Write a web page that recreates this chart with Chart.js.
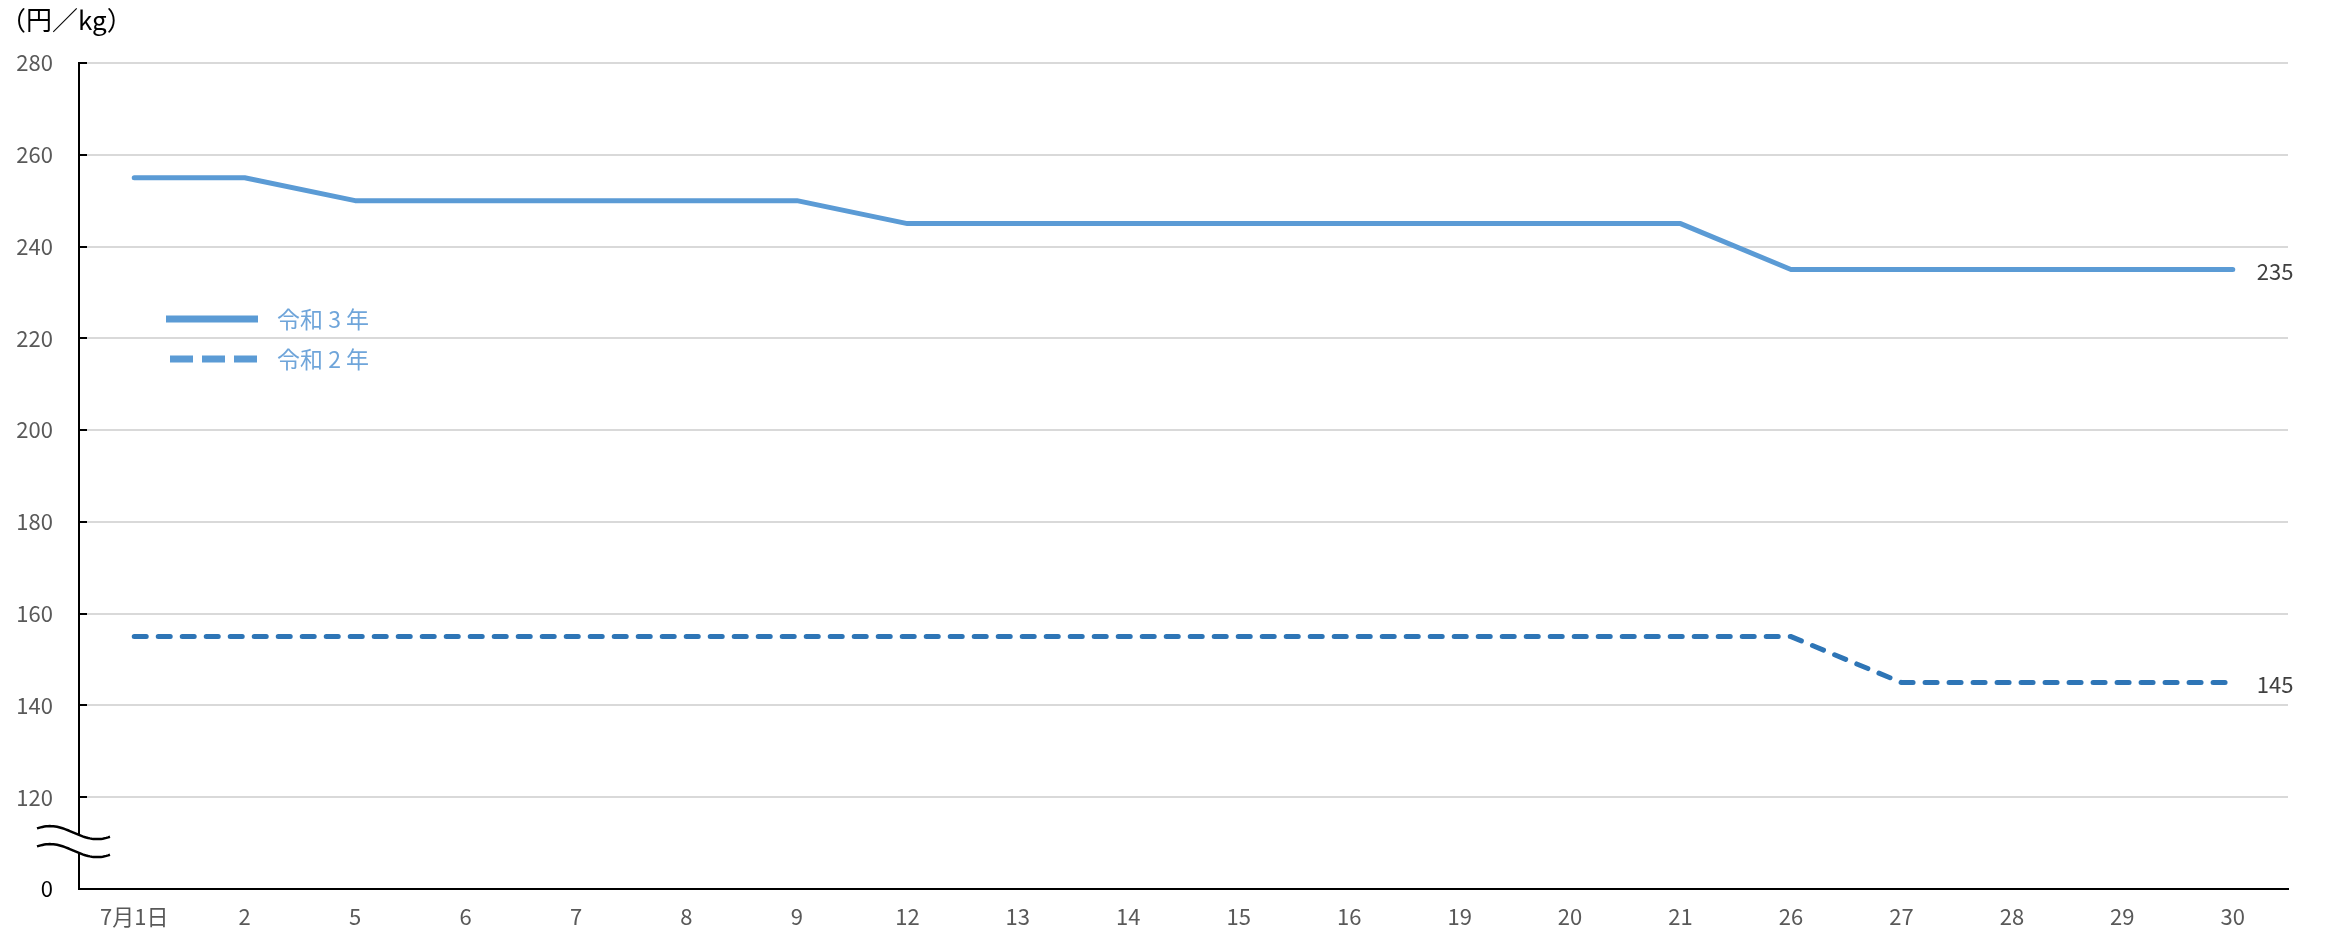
<!DOCTYPE html>
<html>
<head>
<meta charset="utf-8">
<script src="https://cdn.jsdelivr.net/npm/chart.js@4/dist/chart.umd.min.js"></script>
<style>
html,body{margin:0;padding:0;background:#fff;}
#wrap{width:2325px;height:937px;position:relative;}
</style>
</head>
<body>
<div id="wrap"><canvas id="c" width="2325" height="937"></canvas></div>
<script>
const categories = ['7月1日','2','5','6','7','8','9','12','13','14','15','16','19','20','21','26','27','28','29','30'];
const r3Values = [255,255,250,250,250,250,250,245,245,245,245,245,245,245,245,235,235,235,235,235];
const r2Values = [155,155,155,155,155,155,155,155,155,155,155,155,155,155,155,155,145,145,145,145];
const seriesNames = ['令和３年','令和２年'];
const yTicks = [100,120,140,160,180,200,220,240,260,280];
const unitLabel = '（円／kg）';

const FONT = "'Noto Sans CJK JP','Noto Sans',sans-serif";

const overlay = {
  id:'overlay',
  afterDraw(chart){
    const ctx = chart.ctx;
    const xs = chart.scales.x, ys = chart.scales.y;
    const ca = chart.chartArea;
    ctx.save();
    // inner tick marks
    ctx.strokeStyle = '#000'; ctx.lineWidth = 2;
    yTicks.forEach(v=>{
      if (v===100) return;
      const y = Math.round(ys.getPixelForValue(v));
      ctx.beginPath(); ctx.moveTo(ca.left, y); ctx.lineTo(ca.left+8, y); ctx.stroke();
    });
    // axis break
    const yc = ys.getPixelForValue(110);
    const x0 = 37, x1 = 110;
    const wave = (off)=>{
      const pts=[];
      for(let i=0;i<=40;i++){
        const x=x0+(x1-x0)*i/40;
        pts.push([x, yc+off - 6.5*Math.cos(2*Math.PI*(x-50)/94)]);
      }
      return pts;
    };
    const w1 = wave(-10.5), w2 = wave(7.5);
    ctx.fillStyle='#fff';
    ctx.beginPath();
    w1.forEach((p,i)=> i?ctx.lineTo(p[0],p[1]):ctx.moveTo(p[0],p[1]));
    for(let i=w2.length-1;i>=0;i--) ctx.lineTo(w2[i][0],w2[i][1]);
    ctx.closePath(); ctx.fill();
    ctx.strokeStyle='#000'; ctx.lineWidth=2.5;
    [w1,w2].forEach(w=>{ctx.beginPath(); w.forEach((p,i)=> i?ctx.lineTo(p[0],p[1]):ctx.moveTo(p[0],p[1])); ctx.stroke();});
    // unit label
    ctx.fillStyle='#000'; ctx.font = "26px "+FONT; ctx.textAlign='left'; ctx.textBaseline='middle';
    ctx.fillText(unitLabel, 0, 20);
    // end labels
    ctx.fillStyle='#404040'; ctx.font = "22px "+FONT;
    const li = categories.length-1;
    [r3Values, r2Values].forEach(arr=>{
      ctx.fillText(String(arr[li]), xs.getPixelForValue(li)+24, ys.getPixelForValue(arr[li])+2);
    });
    // legend
    const lx1=258;
    const items=[{y:ys.getPixelForValue(224.2), c:'#5B9BD5', dash:[], x0:166},{y:ys.getPixelForValue(215.5), c:'#5B9BD5', dash:[23,9], x0:170}];
    items.forEach((it,i)=>{
      ctx.strokeStyle=it.c; ctx.lineWidth=7; ctx.lineCap='butt'; ctx.setLineDash(it.dash);
      ctx.beginPath(); ctx.moveTo(it.x0, it.y); ctx.lineTo(lx1, it.y); ctx.stroke();
      ctx.setLineDash([]);
      ctx.fillStyle='#6FA5DA'; ctx.font="23px "+FONT;
      ctx.fillText(seriesNames[i].replace('３',' 3 ').replace('２',' 2 '), 277, it.y);
    });
    ctx.restore();
  }
};

new Chart(document.getElementById('c'), {
  type:'line',
  data:{
    labels:categories,
    datasets:[
      {label:seriesNames[0], data:r3Values, borderColor:'#5B9BD5', borderWidth:5, pointRadius:0, tension:0, borderCapStyle:'round', borderJoinStyle:'round'},
      {label:seriesNames[1], data:r2Values, borderColor:'#2E75B6', borderWidth:5, borderDash:[12,12], borderCapStyle:'round', pointRadius:0, tension:0}
    ]
  },
  options:{
    responsive:false, animation:false,
    layout:{padding:{left:0,right:37,top:63,bottom:0}},
    plugins:{legend:{display:false}, tooltip:{enabled:false}, title:{display:false}},
    scales:{
      x:{
        offset:true,
        grid:{display:false, drawTicks:false},
        border:{display:true, color:'#000', width:2},
        ticks:{color:'#595959', font:{size:22, family:FONT}, padding:14, maxRotation:0, autoSkip:false},
        afterFit(s){ s.height = 937-889; }
      },
      y:{
        min:100, max:280,
        afterBuildTicks(s){ s.ticks = yTicks.map(v=>({value:v})); },
        grid:{color:(c)=> c.tick && c.tick.value===100 ? 'rgba(0,0,0,0)' : '#D9D9D9', lineWidth:2, drawTicks:false},
        border:{display:true, color:'#000', width:2},
        ticks:{color:(c)=> c.tick && c.tick.value===100 ? '#000' : '#595959', font:{size:22, family:FONT}, padding:26, callback:(v)=> v===100?'0':String(v)},
        afterFit(s){ s.width = 79; }
      }
    }
  },
  plugins:[overlay]
});
</script>
</body>
</html>
